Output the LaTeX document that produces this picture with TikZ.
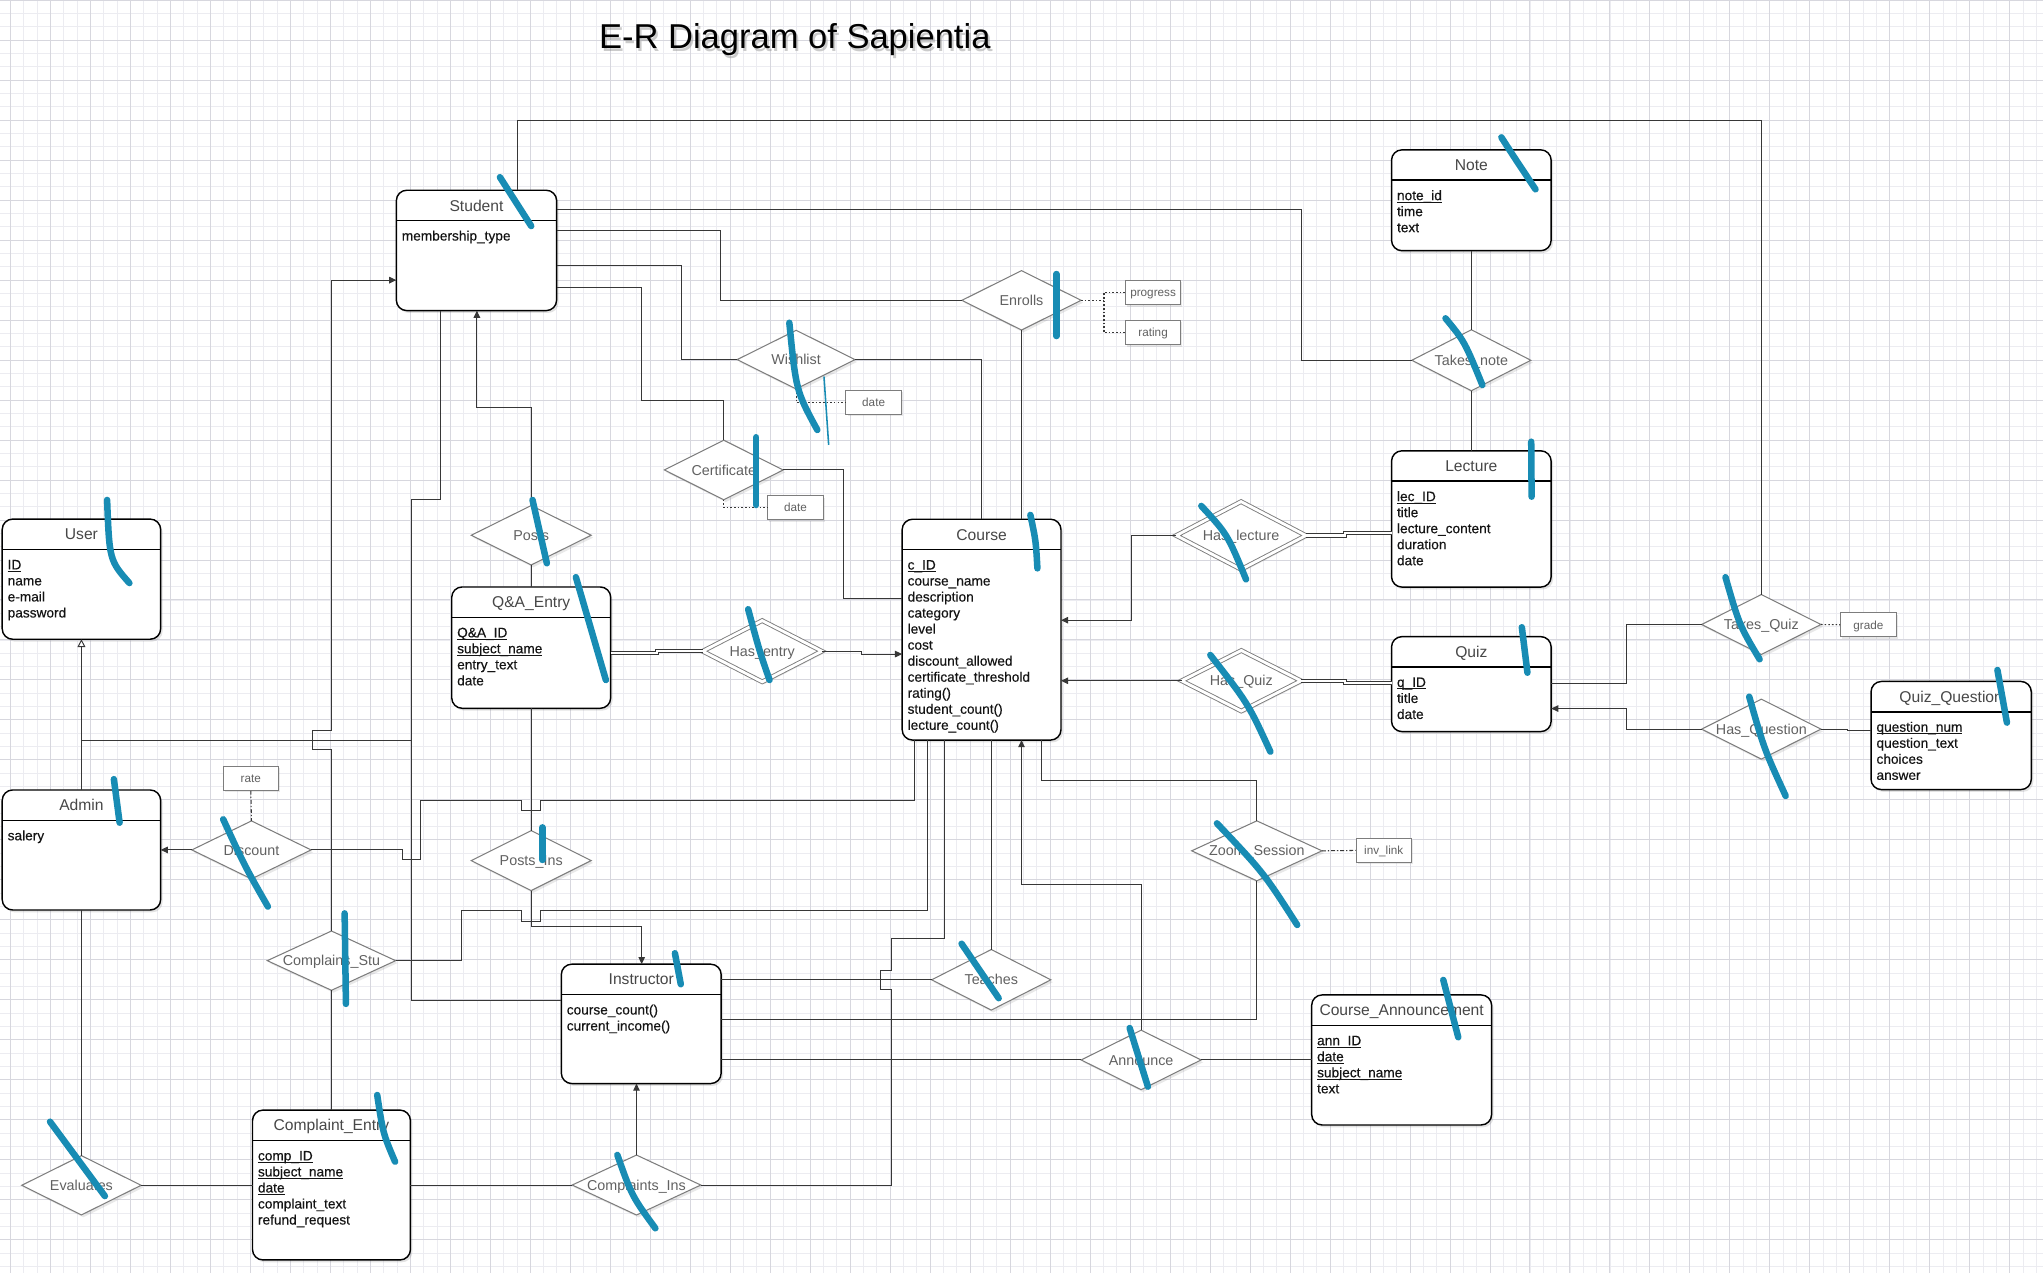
\documentclass[tikz,border=0pt]{standalone}
\usepackage{fontspec}
\setmainfont{Liberation Sans}
\newfontfamily\attrfont[FakeBold=0.35]{Liberation Sans}
\usetikzlibrary{shapes.geometric,arrows.meta,shadows}
\definecolor{markblue}{RGB}{24,140,180}
\definecolor{gminor}{RGB}{236,236,241}
\definecolor{gmajor}{RGB}{215,215,222}
\definecolor{linegray}{RGB}{55,55,55}
\definecolor{diagray}{RGB}{125,125,125}
\newcommand{\ulx}[1]{\leavevmode\setbox0\hbox{#1}\rlap{\rule[-1.7pt]{\wd0}{0.55pt}}\box0}
\tikzset{
  entbox/.style={draw=black, line width=1.1pt, fill=white, rounded corners=8pt, inner sep=0pt, outer sep=0pt,
    drop shadow={opacity=0.22, shadow xshift=1.5pt, shadow yshift=-1.8pt}},
  hdrline/.style={draw=black, line width=1.1pt},
  enttitle/.style={font=\fontsize{12}{14}\selectfont, text=black!72, inner sep=0pt, text height=8.6pt, text depth=0pt},
  attrtext/.style={font=\attrfont\fontsize{10.5}{12}\selectfont, text=black!92, anchor=base west, inner sep=0pt},
  reldia/.style={diamond, draw=diagray, line width=0.8pt, fill=white, inner sep=0pt, outer sep=0pt,
    drop shadow={opacity=0.18, shadow xshift=1.5pt, shadow yshift=-1.8pt}},
  reltext/.style={font=\fontsize{11}{13}\selectfont, text=black!62, inner sep=0pt, text height=7.9pt, text depth=0pt},
  reldbl/.style={double=white, double distance=2.2pt, line width=0.7pt},
  attrbox/.style={draw=diagray, line width=0.8pt, fill=white, minimum width=42.5pt, minimum height=18.5pt,
    inner sep=0pt, font=\fontsize{9}{11}\selectfont, text=black!62, text height=6.5pt, text depth=0pt,
    drop shadow={opacity=0.18, shadow xshift=1.2pt, shadow yshift=-1.5pt}},
  conn/.style={draw=linegray, line width=0.75pt},
  dconn/.style={draw=linegray, line width=0.7pt, double=white, double distance=1.7pt},
  arr/.style={conn, -{Triangle[length=5.5pt,width=5pt]}},
  dotl/.style={draw=linegray, line width=0.8pt, dash pattern=on 1.2pt off 1.6pt},
  ddot/.style={draw=linegray, line width=0.8pt, dash pattern=on 3pt off 1.5pt on 1pt off 1.5pt},
  bluemark/.style={draw=markblue, line width=5pt, line cap=round},
  gridminorline/.style={draw=gminor, line width=0.45pt},
  gridmajorline/.style={draw=gmajor, line width=0.5pt},
}
% #1 name, #2 x1, #3 y1, #4 x2, #5 y2, #6 title, #7 attributes
\newcommand{\entity}[7]{%
  \node[entbox, anchor=north west, minimum width={(#4-#2)*1pt}, minimum height={(#5-#3)*1pt}] (#1) at (#2,#3) {};
  \draw[hdrline] (#2,#3+23.3) -- (#4,#3+23.3);
  \node[enttitle] (#1-t) at ({(#2+#4)/2},#3+11.65) {#6};
  \foreach \attrI [count=\attrN] in {#7}{\node[attrtext] at (#2+4,{#3+38.6+(\attrN-1)*12.3}) {\attrI};}%
}
% [#1 extra style] #2 name, #3 x, #4 y, #5 w, #6 h, #7 label
\newcommand{\rel}[7][]{%
  \node[reldia, #1, minimum width=#5pt, minimum height=#6pt, label={[reltext]center:#7}] (#2) at (#3,#4) {};%
}
\begin{document}
\begin{tikzpicture}[x=1pt,y=-1pt]
\useasboundingbox (0,0) rectangle (1568,977);
\fill[white] (0,0) rectangle (1568,977);
% grid
\foreach \gx in {-2.33,7.9,...,1570}{\draw[gridminorline] (\gx,0) -- (\gx,977);}
\foreach \gy in {0,10.23,...,980}{\draw[gridminorline] (0,\gy) -- (1568,\gy);}
\foreach \gx in {7.9,38.59,...,1570}{\draw[gridmajorline] (\gx,0) -- (\gx,977);}
\foreach \gy in {0,30.69,...,980}{\draw[gridmajorline] (0,\gy) -- (1568,\gy);}

% title
\node[font=\fontsize{26.5}{30}\selectfont, anchor=base, inner sep=0pt, text=black!45, opacity=0.45] (titleshadow) at (611.6,39.3) {E-R Diagram of Sapientia};
\node[font=\fontsize{26.5}{30}\selectfont, anchor=base, inner sep=0pt] (title) at (610,37.5) {E-R Diagram of Sapientia};

% entities
\entity{Student}{304.2}{146}{427.2}{238.4}{Student}{membership\_type}
\entity{Note}{1068}{115}{1190.5}{192.4}{Note}{\ulx{note\_id},time,text}
\entity{Lecture}{1068}{346}{1190.5}{450.6}{Lecture}{\ulx{lec\_ID},title,lecture\_content,duration,date}
\entity{User}{1.7}{398.4}{123.3}{490.6}{User}{\ulx{ID},name,e-mail,password}
\entity{Course}{692.4}{398.5}{814.3}{568}{Course}{\ulx{c\_ID},course\_name,description,category,level,cost,discount\_allowed,certificate\_threshold,rating(),student\_count(),lecture\_count()}
\entity{QA}{346.7}{450.5}{468.7}{543.6}{Q\&A\_Entry}{\ulx{Q\&A\_ID},\ulx{subject\_name},entry\_text,date}
\entity{Quiz}{1068}{488.6}{1190.5}{561.5}{Quiz}{\ulx{q\_ID},title,date}
\entity{QuizQ}{1436}{523}{1559}{606}{Quiz\_Question}{\ulx{question\_num},question\_text,choices,answer}
\entity{Admin}{1.7}{606.3}{123.3}{698.4}{Admin}{salery}
\entity{Instructor}{430.8}{740}{553.5}{831.6}{Instructor}{course\_count(),current\_income()}
\entity{CourseAnn}{1006.7}{763.6}{1144.8}{863.4}{Course\_Announcement}{\ulx{ann\_ID},\ulx{date},\ulx{subject\_name},text}
\entity{CompEntry}{193.8}{852}{315}{967}{Complaint\_Entry}{\ulx{comp\_ID},\ulx{subject\_name},\ulx{date},complaint\_text,refund\_request}

% relationships
\rel{Enrolls}{784}{230.5}{91.5}{45.6}{Enrolls}
\rel{Wishlist}{611}{276}{90.5}{45}{Wishlist}
\rel{Certificate}{555.5}{360.7}{91.2}{45.7}{Certificate}
\rel{TakesNote}{1129.25}{276.5}{91.3}{46.8}{Takes\_note}
\rel{Posts}{407.7}{410.8}{92}{45.6}{Posts}
\rel[reldbl]{HasLecture}{952.5}{411}{99.5}{52}{Has\_lecture}
\rel[reldbl]{HasEntry}{585}{499.8}{91.5}{47}{Has\_entry}
\rel[reldbl]{HasQuiz}{952.7}{522.5}{91.6}{46.5}{Has\_Quiz}
\rel{TakesQuiz}{1351.8}{479.3}{91.6}{46}{Takes\_Quiz}
\rel{HasQuestion}{1351.8}{559.6}{91.6}{46}{Has\_Question}
\rel{Discount}{193}{652.3}{91.5}{44.5}{Discount}
\rel{PostsIns}{407.7}{660.5}{92}{46}{Posts\_Ins}
\rel{ZoomS}{964.6}{653}{100}{46}{Zoom\_Session}
\rel{CompStu}{254.4}{737.3}{98.5}{45.5}{Complains\_Stu}
\rel{Teaches}{760.8}{752}{91.5}{46.5}{Teaches}
\rel{Announce}{875.8}{813.5}{92}{45.7}{Announce}
\rel{Evaluates}{62.5}{909.7}{91.6}{45.5}{Evaluates}
\rel{CompIns}{488.5}{909.5}{98.7}{46}{Complaints\_Ins}

% attribute boxes
\node[attrbox] (aProgress) at (885,224.5) {progress};
\node[attrbox] (aRating) at (885,255.2) {rating};
\node[attrbox] (aWDate) at (670.5,308.7) {date};
\node[attrbox] (aCDate) at (610.6,389.7) {date};
\node[attrbox] (aGrade) at (1434,479.5) {grade};
\node[attrbox] (aRate) at (192.5,597.3) {rate};
\node[attrbox] (aInv) at (1062,652.7) {inv\_link};

% connectors from Student
\draw[conn] (Student.north -| 397,0) |- (1351.8,92.5) -- (TakesQuiz.north);
\draw[conn] (Student.east |- 0,161) -| (999,276.5) -- (TakesNote.west);
\draw[conn] (Student.east |- 0,177) -| (553,230.5) -- (Enrolls.west);
\draw[conn] (Student.east |- 0,203.5) -| (523,276) -- (Wishlist.west);
\draw[conn] (Student.east |- 0,221) -| (492.5,307) -| (Certificate.north);
\draw[conn] (Wishlist.east) -| (Course.north -| 753,0);
\draw[conn] (Enrolls.south) -- (Course.north -| Enrolls.south);
\draw[conn] (Certificate.east) -| (647,459) -- (Course.west |- 0,459);
\draw[conn] (Note.south) -- (TakesNote.north);
\draw[conn] (TakesNote.south) -- (Lecture.north);
\draw[dconn] (HasLecture.east) -- (1032,411) -- (1032,408.8) -- (Lecture.west |- 0,408.8);
\draw[arr] (HasLecture.west) -| (868.5,476) -- (Course.east |- 0,476);
\draw[arr] (HasQuiz.west) -- (Course.east |- HasQuiz.west);
\draw[dconn] (HasQuiz.east) -- (1032,522.5) -- (1032,524.2) -- (Quiz.west |- 0,524.2);
\draw[conn] (Quiz.east |- 0,524.2) -| (1248,479.3) -- (TakesQuiz.west);
\draw[arr] (HasQuestion.west) -| (1248,543.8) -- (Quiz.east |- 0,543.8);
\draw[conn] (HasQuestion.east) -- (1418,559.6) -- (1418,561) -- (QuizQ.west |- 0,561);
\draw[arr] (Posts.north) |- (366,313) -- (Student.south -| 366,0);
\draw[conn] (Posts.south) -- (QA.north);
\draw[dconn] (QA.east |- 0,501) -- (504,501) -- (504,499.8) -- (HasEntry.west);
\draw[arr] (HasEntry.east) -- (661,499.8) -- (661,502) -- (Course.west |- 0,502);
\draw[conn] (QA.south) -- (PostsIns.north);
\draw[arr] (PostsIns.south) |- (492.5,711) -- (Instructor.north -| 492.5,0);
% Discount
\draw[arr] (Discount.west) -- (Admin.east |- Discount.west);
\draw[conn] (Discount.east) -- (309,652.3) -- (309,660) -- (323,660) -- (323,614) -- (400.5,614) -- (400.5,622) -- (415,622) -- (415,614) -- (702,614) -- (Course.south -| 702,0);
\draw[ddot] (aRate.south) -- (Discount.north);
% Complains_Stu
\draw[conn] (CompStu.east) -| (354,699) -- (400.5,699) -- (400.5,707) -- (415,707) -- (415,699) -- (712,699) -- (Course.south -| 712,0);
\draw[arr] (CompStu.north) -- (254.4,575.5) -- (239.5,575.5) -- (239.5,560.5) -- (254.4,560.5) |- (Student.west |- 0,215);
\draw[conn] (CompStu.south) -- (CompEntry.north -| CompStu.south);
% generalisation
\draw[conn, -{Triangle[open, fill=white, length=6pt, width=6pt]}] (Admin.north) -- (User.south);
\draw[conn] (Admin.north |- 0,568) -- (316,568);
\draw[conn] (Student.south -| 338,0) |- (316,383) |- (Instructor.west |- 0,767.5);
% Instructor side
\draw[conn] (Teaches.west) -- (Instructor.east |- Teaches.west);
\draw[conn] (Teaches.north) -- (Course.south -| Teaches.north);
\draw[conn] (Course.south -| 724.5,0) |- (684,720.5) -- (684,745) -- (676,745) -- (676,759.5) -- (684,759.5) |- (CompIns.east);
\draw[arr] (CompIns.north) -- (Instructor.south -| CompIns.north);
\draw[conn] (CompIns.west) -- (CompEntry.east |- CompIns.west);
\draw[conn] (Evaluates.east) -- (CompEntry.west |- Evaluates.east);
\draw[conn] (Evaluates.north) -- (Admin.south -| Evaluates.north);
\draw[arr] (Announce.north) |- (784,679) -- (Course.south -| 784,0);
\draw[conn] (Announce.west) -- (Instructor.east |- Announce.west);
\draw[conn] (Announce.east) -- (CourseAnn.west |- Announce.east);
\draw[conn] (ZoomS.north) |- (799,599) -- (Course.south -| 799,0);
\draw[conn] (ZoomS.south) |- (Instructor.east |- 0,782.5);
% attribute links
\draw[dotl] (Enrolls.east) -- (847.3,230.5);
\draw[dotl] (aProgress.west) -| (847.3,255.2) -- (aRating.west);
\draw[dotl] (Wishlist.south) |- (aWDate.west);
\draw[dotl] (Certificate.south) |- (aCDate.west);
\draw[dotl] (TakesQuiz.east) -- (aGrade.west);
\draw[ddot] (ZoomS.east) -- (aInv.west);

% hand-drawn blue marks
\draw[bluemark] (383.7,136) -- (407.7,173.5);
\draw[bluemark] (1152.3,105.4) .. controls (1163,122) .. (1178.5,145.3);
\draw[bluemark] (1109.4,244.3) .. controls (1124,262) .. (1137.7,295.5);
\draw[bluemark] (1175.2,339) -- (1175.5,381.2);
\draw[bluemark] (810.7,210.3) -- (810.7,257.9);
\draw[bluemark] (605.8,247.7) .. controls (611,300) .. (627.3,330);
\draw[markblue, line width=1.2pt] (632.4,289) -- (636,341.5);
\draw[bluemark] (580.4,335.6) -- (580.4,387.6);
\draw[bluemark] (922,388.3) .. controls (942,410) .. (956.3,444.6);
\draw[bluemark] (790.8,395.2) .. controls (795,415) .. (796.2,436.2);
\draw[bluemark] (574.2,467.6) .. controls (583,500) .. (590.6,521.9);
\draw[bluemark] (928.9,502.7) .. controls (958,540) .. (975,576.9);
\draw[bluemark] (934,631.9) .. controls (970,670) .. (995.6,709.9);
\draw[bluemark] (408.7,383.7) -- (419.7,432.3);
\draw[bluemark] (442,443) -- (465,521.9);
\draw[bluemark] (82.2,383.7) .. controls (84,430) .. (99.3,447.5);
\draw[bluemark] (87.4,598) -- (91.8,631.4);
\draw[bluemark] (171.3,628.8) .. controls (188,665) .. (205.6,695.8);
\draw[bluemark] (416.3,635) -- (416.3,660);
\draw[bluemark] (264.5,701) -- (265.5,770.5);
\draw[bluemark] (38.4,860.9) -- (80.5,918);
\draw[bluemark] (289.5,840.4) .. controls (294,870) .. (303.2,891.6);
\draw[bluemark] (473.8,886.4) .. controls (485,918) .. (503,942.7);
\draw[bluemark] (518,731.6) -- (522.5,755.4);
\draw[bluemark] (738,724.3) -- (766.5,766.1);
\draw[bluemark] (867,789) -- (881,834);
\draw[bluemark] (1107.7,752.1) -- (1119.2,796.1);
\draw[bluemark] (1168,481.4) -- (1172.3,516.3);
\draw[bluemark] (1324.3,443) .. controls (1335,480) .. (1350.5,506);
\draw[bluemark] (1342.5,534.7) .. controls (1354,575) .. (1370.5,610.9);
\draw[bluemark] (1533,514.2) -- (1540.3,554.6);
\end{tikzpicture}
\end{document}
